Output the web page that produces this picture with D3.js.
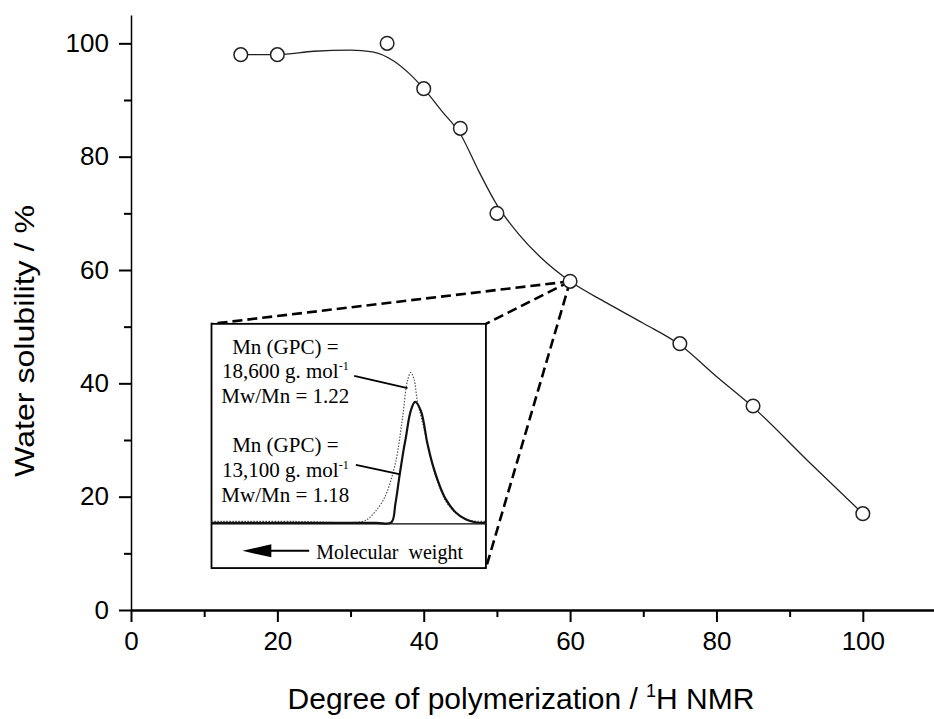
<!DOCTYPE html>
<html>
<head>
<meta charset="utf-8">
<script src="https://cdn.jsdelivr.net/npm/d3@7"></script>
<style>
  body { margin: 0; background: #fff; }
  svg { display: block; }
</style>
</head>
<body>
<svg id="chart" width="934" height="719"></svg>
<script>
// measured points: degree of polymerization vs water solubility
var dpValues = [15, 20, 35, 40, 45, 50, 60, 75, 85, 100];
var solubility = [98, 98, 100, 92, 85, 70, 58, 47, 36, 17];

// smooth guide curve as drawn in the figure
var curveDp = [15, 20, 25, 30, 33, 36, 38, 40, 42.5, 45, 47.5, 50, 53, 56, 60, 65, 70, 75, 80, 85, 92.5, 100];
var curveSol = [98, 98, 98.6, 98.8, 98.5, 96.8, 94.7, 92, 88, 84, 77.5, 71.5, 66.3, 62.2, 58, 54.2, 50.6, 46.8, 41.2, 35.8, 26.3, 17];

// GPC traces inside the inset (relative elution position, relative intensity)
var gpcSolidX = [0, 30, 60, 65.5, 67, 68.4, 70, 70.8, 72.6, 74.2, 76.3, 78.7, 80.5, 82.9, 85.3, 89, 92.6, 96, 100];
var gpcSolidY = [0.5, 0.5, 0.5, 0.7, 10, 23, 37, 43, 56.5, 61, 56.5, 40, 30, 20, 12.5, 5.7, 2.3, 0.8, 0.5];
var gpcDotX = [0, 30, 55, 57.5, 59.9, 62, 64.1, 67.2, 69.6, 71.4, 72.6, 73.8, 75, 77, 79, 81, 83.5, 86, 90, 94, 100];
var gpcDotY = [1.2, 1.2, 1.2, 3, 6.5, 10.5, 16.5, 31.5, 53, 71.5, 75.7, 72.3, 61.5, 50, 38, 27, 17, 10, 4.5, 1.8, 1.2];

var xMajor = [0, 20, 40, 60, 80, 100];
var xMinor = [10, 30, 50, 70, 90];
var yMajor = [0, 20, 40, 60, 80, 100];
var yMinor = [10, 30, 50, 70, 90];

var label1 = ["Mn (GPC) =", "18,600 g. mol", "Mw/Mn = 1.22"];
var label2 = ["Mn (GPC) =", "13,100 g. mol", "Mw/Mn = 1.18"];

var svg = d3.select("#chart");

var x = d3.scaleLinear().domain([0, 110]).range([131, 936]);
var y = d3.scaleLinear().domain([0, 105]).range([610, 15]);

// axes
var gx = svg.append("g").attr("transform", "translate(0," + y(0) + ")")
    .call(d3.axisBottom(x).tickValues(xMajor).tickSize(12).tickSizeOuter(0).tickPadding(10));
svg.append("g").attr("transform", "translate(0," + y(0) + ")")
    .call(d3.axisBottom(x).tickValues(xMinor).tickSize(7).tickSizeOuter(0).tickFormat(""))
    .select(".domain").remove();
var gy = svg.append("g").attr("transform", "translate(" + x(0) + ",0)")
    .call(d3.axisLeft(y).tickValues(yMajor).tickSize(12).tickSizeOuter(0).tickPadding(10));
svg.append("g").attr("transform", "translate(" + x(0) + ",0)")
    .call(d3.axisLeft(y).tickValues(yMinor).tickSize(7).tickSizeOuter(0).tickFormat(""))
    .select(".domain").remove();

svg.selectAll(".tick line").attr("stroke", "#000").attr("stroke-width", 2);
gx.select(".domain").attr("stroke", "#000").attr("stroke-width", 2.4);
gy.select(".domain").attr("stroke", "#000").attr("stroke-width", 1.5);
svg.selectAll(".tick text")
    .attr("font-family", "Liberation Sans, Arial, sans-serif")
    .attr("font-size", 26).attr("fill", "#000");

// axis titles
var xt = svg.append("text")
    .attr("x", 521).attr("y", 709)
    .attr("text-anchor", "middle")
    .attr("font-family", "Liberation Sans, Arial, sans-serif")
    .attr("font-size", 30).attr("fill", "#000");
xt.append("tspan").text("Degree of polymerization / ");
xt.append("tspan").attr("font-size", 18).attr("dy", -12).text("1");
xt.append("tspan").attr("dy", 12).text("H NMR");

svg.append("text")
    .attr("transform", "translate(34,341) rotate(-90)")
    .attr("text-anchor", "middle")
    .attr("font-family", "Liberation Sans, Arial, sans-serif")
    .attr("font-size", 28).attr("fill", "#000")
    .attr("textLength", 272).attr("lengthAdjust", "spacingAndGlyphs")
    .text("Water solubility / %");

// inset box, in main data units
var box = { x0: 11, x1: 48.5, top: 50.5, div: 15.2, bottom: 7.4 };

// dashed zoom lines from the DP 60 point to the inset corners
var zoomFrom = [dpValues[6], solubility[6]];
var corners = [[box.x0, box.top], [box.x1, box.top], [box.x1, box.bottom]];
svg.selectAll(".zoomline").data(corners).enter().append("line")
    .attr("class", "zoomline")
    .attr("x1", x(zoomFrom[0])).attr("y1", y(zoomFrom[1]))
    .attr("x2", function (d) { return x(d[0]); })
    .attr("y2", function (d) { return y(d[1]); })
    .attr("stroke", "#000").attr("stroke-width", 2.6)
    .attr("stroke-dasharray", "10,5");

svg.append("rect")
    .attr("x", x(box.x0)).attr("y", y(box.top))
    .attr("width", x(box.x1) - x(box.x0))
    .attr("height", y(box.bottom) - y(box.top))
    .attr("fill", "#fff").attr("stroke", "#000").attr("stroke-width", 1.8);
svg.append("line")
    .attr("x1", x(box.x0)).attr("x2", x(box.x1))
    .attr("y1", y(box.div)).attr("y2", y(box.div))
    .attr("stroke", "#000").attr("stroke-width", 1.2);

// inset scales
var u = d3.scaleLinear().domain([0, 100]).range([x(box.x0), x(box.x1)]);
var v = d3.scaleLinear().domain([0, 100]).range([y(box.div), y(box.top)]);

var traceLine = d3.line()
    .x(function (d) { return u(d[0]); })
    .y(function (d) { return v(d[1]); })
    .curve(d3.curveCatmullRom);

svg.append("path")
    .datum(d3.zip(gpcDotX, gpcDotY))
    .attr("d", traceLine)
    .attr("fill", "none").attr("stroke", "#555").attr("stroke-width", 1.2)
    .attr("stroke-dasharray", "1.5,1.5");
svg.append("path")
    .datum(d3.zip(gpcSolidX, gpcSolidY))
    .attr("d", traceLine)
    .attr("fill", "none").attr("stroke", "#111").attr("stroke-width", 2.2);

function drawLabel(lines, baseV) {
    var t = svg.append("text")
        .attr("text-anchor", "middle")
        .attr("font-family", "Liberation Serif, Times New Roman, serif")
        .attr("font-size", 21).attr("fill", "#000");
    lines.forEach(function (s, i) {
        var ts = t.append("tspan").attr("x", u(26.9)).attr("y", v(baseV) + i * 24.6);
        ts.append("tspan").text(s);
        if (i === 1) {
            ts.append("tspan").attr("font-size", 12).attr("dy", -8).text("-1");
        }
    });
}
drawLabel(label1, 85);
drawLabel(label2, 35.7);

// leader lines
var leaders = [[[52, 74], [71.4, 67.9]], [[52.6, 29.5], [68.4, 24.9]]];
svg.selectAll(".leader").data(leaders).enter().append("line")
    .attr("class", "leader")
    .attr("x1", function (d) { return u(d[0][0]); })
    .attr("y1", function (d) { return v(d[0][1]); })
    .attr("x2", function (d) { return u(d[1][0]); })
    .attr("y2", function (d) { return v(d[1][1]); })
    .attr("stroke", "#000").attr("stroke-width", 1.8);

// molecular weight arrow
var ay = v(-13.5);
svg.append("line")
    .attr("x1", u(35.6)).attr("x2", u(20)).attr("y1", ay).attr("y2", ay)
    .attr("stroke", "#000").attr("stroke-width", 2);
svg.append("path")
    .attr("d", "M" + u(11.3) + "," + ay + "L" + u(21.8) + "," + (ay - 6.5) + "L" + u(21.8) + "," + (ay + 6.5) + "Z")
    .attr("fill", "#000");
svg.append("text")
    .attr("x", u(38.2)).attr("y", v(-17.5))
    .attr("font-family", "Liberation Serif, Times New Roman, serif")
    .attr("font-size", 20).attr("fill", "#000")
    .attr("xml:space", "preserve")
    .text("Molecular  weight");

// main guide curve
var mainLine = d3.line()
    .x(function (d) { return x(d[0]); })
    .y(function (d) { return y(d[1]); })
    .curve(d3.curveMonotoneX);
svg.append("path")
    .datum(d3.zip(curveDp, curveSol))
    .attr("d", mainLine)
    .attr("fill", "none").attr("stroke", "#222").attr("stroke-width", 1.3);

// data points
svg.selectAll(".pt").data(d3.zip(dpValues, solubility)).enter().append("circle")
    .attr("class", "pt")
    .attr("cx", function (d) { return x(d[0]); })
    .attr("cy", function (d) { return y(d[1]); })
    .attr("r", 6.8)
    .attr("fill", "#fff").attr("stroke", "#222").attr("stroke-width", 1.5);
</script>
</body>
</html>
